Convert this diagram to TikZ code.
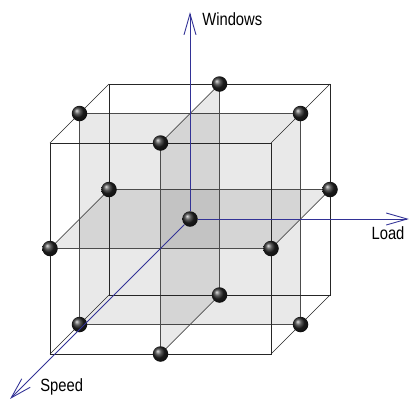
\documentclass[tikz,border=0pt]{standalone}
\usepackage{fontspec}
\setmainfont{Liberation Sans}
\usepackage{tikz}
\usetikzlibrary{arrows.meta}
\definecolor{AxisBlue}{RGB}{50,50,150}
\newcommand{\tallText}[1]{\scalebox{1}[1.2]{#1}}

\begin{document}
\begin{tikzpicture}[x={(2.21cm,0cm)}, y={(0cm,2.11cm)}, z={(-0.59cm,-0.59cm)},
    edge/.style={draw=black!85, line width=0.45pt},
    plane/.style={fill=black, fill opacity=0.085, draw=black!70, line width=0.4pt},
    hub/.style={circle, inner sep=0pt, minimum size=0.31cm, shading=ball, ball color=black!85},
    axis/.style={draw=AxisBlue, line width=0.5pt, -{Straight Barb[length=0.42cm, width=0.24cm]}},
    axislabel/.style={inner sep=0pt, font=\fontsize{8.4}{10}\selectfont}]
    \useasboundingbox (-3.8cm,-3.66cm) rectangle (4.38cm,4.38cm);

    % Cube corners
    \coordinate (flb) at (-1,-1,1);  \coordinate (frb) at (1,-1,1);
    \coordinate (frt) at (1,1,1);    \coordinate (flt) at (-1,1,1);
    \coordinate (blb) at (-1,-1,-1); \coordinate (brb) at (1,-1,-1);
    \coordinate (brt) at (1,1,-1);   \coordinate (blt) at (-1,1,-1);

    % Edge midpoints (the balls)
    \coordinate (mtb) at (0,1,-1);  \coordinate (mtf) at (0,1,1);
    \coordinate (mbb) at (0,-1,-1); \coordinate (mbf) at (0,-1,1);
    \coordinate (mlt) at (-1,1,0);  \coordinate (mrt) at (1,1,0);
    \coordinate (mlb) at (-1,-1,0); \coordinate (mrb) at (1,-1,0);
    \coordinate (mlf) at (-1,0,1);  \coordinate (mrf) at (1,0,1);
    \coordinate (mlk) at (-1,0,-1); \coordinate (mrk) at (1,0,-1);

    % Axis tips
    \coordinate (wtip) at (0,1.96,0);
    \coordinate (ltip) at (1.98,0,0);
    \coordinate (stip) at (0,0,6.1);

    % Grey planes through the centre
    \filldraw[plane] (mlt) -- (mrt) -- (mrb) -- (mlb) -- cycle;
    \filldraw[plane] (mlf) -- (mrf) -- (mrk) -- (mlk) -- cycle;
    \filldraw[plane] (mtf) -- (mtb) -- (mbb) -- (mbf) -- cycle;

    % Cube frame
    \draw[edge] (flb) -- (frb) -- (frt) -- (flt) -- cycle;
    \draw[edge] (blb) -- (brb) -- (brt) -- (blt) -- cycle;
    \draw[edge, line width=0.35pt] (flb) -- (blb) (frb) -- (brb) (frt) -- (brt) (flt) -- (blt);

    % Balls
    \foreach \p in {mtb,mtf,mbb,mbf,mlt,mrt,mlb,mrb,mlf,mrf,mlk,mrk}
        \node[hub] (b-\p) at (\p) {};
    \node[hub] (o) at (0,0,0) {};

    % Axes
    \draw[axis] (o) -- (wtip);
    \draw[axis] (o) -- (ltip);
    \draw[axis] (o) -- (stip);

    \node[axislabel, anchor=base west] (windows) at ([shift={(0.24cm,-0.26cm)}]wtip) {\tallText{Windows}};
    \node[axislabel, anchor=base east] (load) at ([shift={(-0.08cm,-0.4cm)}]ltip) {\tallText{Load}};
    \node[axislabel, anchor=base west] (speed) at ([shift={(0.6cm,0.14cm)}]stip) {\tallText{Speed}};
\end{tikzpicture}
\end{document}
